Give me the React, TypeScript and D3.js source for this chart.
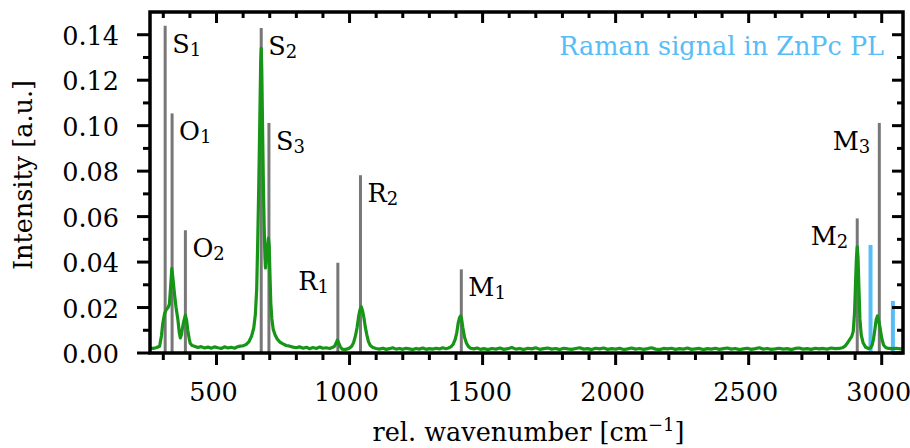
import React from 'react';
import * as d3 from 'd3';

const W = 910;
const H = 448;
const M = { left: 150, right: 7, top: 12, bottom: 95 };
const FONT = "'DejaVu Serif', serif";

const xDomain: [number, number] = [250, 3080];
const yDomain: [number, number] = [0, 0.15];
const xMajorTicks = [500, 1000, 1500, 2000, 2500, 3000];
const xMajorLabels = ['500', '1000', '1500', '2000', '2500', '3000'];
const xMinorTicks = [300, 400, 600, 700, 800, 900, 1100, 1200, 1300, 1400, 1600, 1700, 1800, 1900, 2100, 2200, 2300, 2400, 2600, 2700, 2800, 2900, 3000];
const yMajorTicks = [0, 0.02, 0.04, 0.06, 0.08, 0.1, 0.12, 0.14];
const yMajorLabels = ['0.00', '0.02', '0.04', '0.06', '0.08', '0.10', '0.12', '0.14'];
const yMinorTicks = [0.01, 0.03, 0.05, 0.07, 0.09, 0.11, 0.13];

// assigned Raman lines (grey sticks)
const peakNames = ['S', 'O', 'O', 'S', 'S', 'R', 'R', 'M', 'M', 'M'];
const peakSubs = ['1', '1', '2', '2', '3', '1', '2', '1', '2', '3'];
const peakPositions = [307, 333, 383, 668, 697, 956, 1041, 1420, 2908, 2991];
const peakHeights = [0.144, 0.1054, 0.054, 0.143, 0.1012, 0.0397, 0.0782, 0.0368, 0.0592, 0.1012];
const peakLabelSide = ['right', 'right', 'right', 'right', 'right', 'left', 'right', 'right', 'left', 'left'];

// Raman signal in ZnPc PL (blue sticks)
const ramanPositions = [2958, 3042];
const ramanHeights = [0.0475, 0.0229];

// measured spectrum [rel. wavenumber, intensity]
const spectrum: [number, number][] = [
  [250, 0.0022], [262, 0.0020], [275, 0.0024], [286, 0.0030], [293, 0.0075], [298, 0.0130],
  [305, 0.0175], [311, 0.0190], [318, 0.0200], [323, 0.0215], [328, 0.0300], [332, 0.0372],
  [336, 0.0330], [342, 0.0260], [348, 0.0200], [355, 0.0145], [360, 0.0090], [364, 0.0066],
  [368, 0.0080], [372, 0.0110], [377, 0.0140], [383, 0.0167], [388, 0.0140], [392, 0.0100],
  [397, 0.0065], [401, 0.0043], [408, 0.0033], [417, 0.0030], [430, 0.0024], [442, 0.0028],
  [455, 0.0022], [468, 0.0026], [480, 0.0021], [492, 0.0027], [505, 0.0023], [518, 0.0020],
  [530, 0.0027], [542, 0.0022], [555, 0.0025], [568, 0.0021], [580, 0.0028], [590, 0.0030],
  [600, 0.0032], [612, 0.0038], [622, 0.0050], [632, 0.0075], [640, 0.0110], [646, 0.0170],
  [651, 0.0280], [655, 0.0500], [659, 0.0750], [663, 0.1050], [666, 0.1280], [668, 0.1340],
  [670, 0.1250], [673, 0.1000], [676, 0.0750], [679, 0.0560], [682, 0.0420], [684, 0.0374],
  [687, 0.0400], [691, 0.0460], [695, 0.0505], [698, 0.0470], [701, 0.0340], [704, 0.0220],
  [708, 0.0150], [713, 0.0105], [720, 0.0080], [728, 0.0062], [738, 0.0048], [750, 0.0040],
  [762, 0.0033], [775, 0.0030], [788, 0.0026], [800, 0.0023], [812, 0.0027], [825, 0.0021],
  [838, 0.0025], [850, 0.0019], [862, 0.0024], [875, 0.0020], [888, 0.0026], [900, 0.0021],
  [912, 0.0023], [925, 0.0020], [935, 0.0024], [944, 0.0030], [950, 0.0045], [954, 0.0057],
  [959, 0.0045], [965, 0.0028], [972, 0.0017], [982, 0.0015], [992, 0.0018], [1000, 0.0022],
  [1008, 0.0030], [1015, 0.0045], [1022, 0.0075], [1028, 0.0110], [1034, 0.0160], [1039, 0.0190],
  [1044, 0.0204], [1049, 0.0185], [1054, 0.0155], [1059, 0.0115], [1065, 0.0080], [1071, 0.0050],
  [1078, 0.0033], [1088, 0.0024], [1100, 0.0020], [1112, 0.0017], [1125, 0.0021], [1138, 0.0016],
  [1150, 0.0019], [1162, 0.0023], [1175, 0.0017], [1188, 0.0020], [1200, 0.0016], [1212, 0.0021],
  [1225, 0.0018], [1238, 0.0015], [1250, 0.0020], [1262, 0.0017], [1275, 0.0022], [1288, 0.0016],
  [1300, 0.0019], [1312, 0.0017], [1325, 0.0021], [1338, 0.0018], [1350, 0.0023], [1362, 0.0019],
  [1372, 0.0022], [1382, 0.0028], [1390, 0.0040], [1397, 0.0060], [1403, 0.0090], [1408, 0.0130],
  [1413, 0.0155], [1417, 0.0163], [1421, 0.0150], [1426, 0.0110], [1432, 0.0070], [1439, 0.0044],
  [1447, 0.0028], [1455, 0.0021], [1467, 0.0018], [1480, 0.0022], [1492, 0.0016], [1505, 0.0019],
  [1520, 0.0015], [1535, 0.0020], [1550, 0.0017], [1565, 0.0022], [1580, 0.0016], [1595, 0.0019],
  [1610, 0.0024], [1625, 0.0017], [1640, 0.0020], [1655, 0.0015], [1670, 0.0021], [1685, 0.0018],
  [1700, 0.0023], [1715, 0.0016], [1730, 0.0019], [1745, 0.0022], [1760, 0.0017], [1775, 0.0020],
  [1790, 0.0015], [1805, 0.0021], [1820, 0.0018], [1835, 0.0016], [1850, 0.0020], [1865, 0.0023],
  [1880, 0.0017], [1895, 0.0019], [1910, 0.0015], [1925, 0.0021], [1940, 0.0018], [1955, 0.0022],
  [1970, 0.0016], [1985, 0.0019], [2000, 0.0017], [2015, 0.0021], [2030, 0.0015], [2045, 0.0018],
  [2060, 0.0022], [2075, 0.0017], [2090, 0.0020], [2105, 0.0016], [2120, 0.0019], [2135, 0.0023],
  [2150, 0.0017], [2165, 0.0015], [2180, 0.0020], [2195, 0.0018], [2210, 0.0021], [2225, 0.0016],
  [2240, 0.0019], [2255, 0.0017], [2270, 0.0022], [2285, 0.0016], [2300, 0.0018], [2315, 0.0020],
  [2330, 0.0015], [2345, 0.0019], [2360, 0.0017], [2375, 0.0021], [2390, 0.0016], [2405, 0.0019],
  [2420, 0.0022], [2435, 0.0017], [2450, 0.0020], [2465, 0.0015], [2480, 0.0018], [2495, 0.0021],
  [2510, 0.0016], [2525, 0.0019], [2540, 0.0023], [2555, 0.0017], [2570, 0.0020], [2585, 0.0016],
  [2600, 0.0018], [2615, 0.0021], [2630, 0.0017], [2645, 0.0019], [2660, 0.0015], [2675, 0.0020],
  [2690, 0.0022], [2705, 0.0017], [2720, 0.0019], [2735, 0.0016], [2750, 0.0021], [2765, 0.0018],
  [2780, 0.0020], [2795, 0.0017], [2810, 0.0022], [2825, 0.0019], [2840, 0.0020], [2852, 0.0023],
  [2862, 0.0030], [2872, 0.0045], [2880, 0.0060], [2887, 0.0072], [2893, 0.0095], [2898, 0.0180],
  [2902, 0.0320], [2905, 0.0420], [2908, 0.0467], [2911, 0.0420], [2914, 0.0300], [2918, 0.0150],
  [2923, 0.0080], [2930, 0.0045], [2940, 0.0025], [2950, 0.0020], [2958, 0.0022], [2964, 0.0035],
  [2969, 0.0060], [2974, 0.0100], [2979, 0.0145], [2984, 0.0163], [2989, 0.0140], [2994, 0.0110],
  [3000, 0.0065], [3007, 0.0035], [3015, 0.0024], [3025, 0.0020], [3040, 0.0019], [3055, 0.0021],
  [3070, 0.0018], [3080, 0.0020],
];

const GREY = '#777777';
const BLUE = '#56bdf7';
const GREEN = '#169516';

export default function App() {
  const x0 = M.left;
  const x1 = W - M.right;
  const y0 = H - M.bottom;
  const y1 = M.top;
  const x = d3.scaleLinear().domain(xDomain).range([x0, x1]);
  const y = d3.scaleLinear().domain(yDomain).range([y0, y1]);
  const line = d3
    .line<[number, number]>()
    .x((d) => x(d[0]))
    .y((d) => y(d[1]));

  const fs = 25.5;
  const subFs = 18;
  const tickW = 3;

  return (
    <svg
      width={W}
      height={H}
      style={{ position: 'absolute', left: 0, top: 0, background: '#fff' }}
      fontFamily={FONT}
    >
      <defs>
        <clipPath id="plotClip">
          <rect x={x0} y={y1} width={x1 - x0} height={y0 - y1} />
        </clipPath>
      </defs>
      <rect x={0} y={0} width={W} height={H} fill="#fff" />

      {/* grey sticks */}
      {peakPositions.map((p, i) => (
        <line key={'pk' + i} x1={x(p)} x2={x(p)} y1={y(0)} y2={y(peakHeights[i])} stroke={GREY} strokeWidth={3} />
      ))}
      {/* blue sticks */}
      {ramanPositions.map((p, i) => (
        <line key={'rm' + i} x1={x(p)} x2={x(p)} y1={y(0)} y2={y(ramanHeights[i])} stroke={BLUE} strokeWidth={4} />
      ))}

      {/* spectrum */}
      <path d={line(spectrum) || ''} fill="none" stroke={GREEN} strokeWidth={3.2} strokeLinejoin="round" clipPath="url(#plotClip)" />

      {/* peak labels */}
      {peakPositions.map((p, i) => {
        const right = peakLabelSide[i] === 'right';
        return (
          <text
            key={'pl' + i}
            x={right ? x(p) + 7 : x(p) - 9}
            y={y(peakHeights[i]) + 27}
            fontSize={fs}
            textAnchor={right ? 'start' : 'end'}
            fill="#000"
          >
            {peakNames[i]}
            <tspan fontSize={subFs} dy={3}>{peakSubs[i]}</tspan>
          </text>
        );
      })}

      <text x={884} y={55} fontSize={fs} fill={BLUE} textAnchor="end">
        Raman signal in ZnPc PL
      </text>

      {/* ticks: bottom (outward), top (inward) */}
      {xMajorTicks.map((t) => (
        <g key={'xM' + t}>
          <line x1={x(t)} x2={x(t)} y1={y0} y2={y0 + 12} stroke="#000" strokeWidth={tickW} />
          <line x1={x(t)} x2={x(t)} y1={y1} y2={y1 + 11} stroke="#000" strokeWidth={tickW} />
        </g>
      ))}
      {xMinorTicks.filter((t) => !xMajorTicks.includes(t)).map((t) => (
        <g key={'xm' + t}>
          <line x1={x(t)} x2={x(t)} y1={y0} y2={y0 + 7} stroke="#000" strokeWidth={tickW} />
          <line x1={x(t)} x2={x(t)} y1={y1} y2={y1 + 6} stroke="#000" strokeWidth={tickW} />
        </g>
      ))}
      {yMajorTicks.map((t) => (
        <g key={'yM' + t}>
          <line x1={x0 - 13} x2={x0} y1={y(t)} y2={y(t)} stroke="#000" strokeWidth={tickW} />
          <line x1={x1 - 11} x2={x1} y1={y(t)} y2={y(t)} stroke="#000" strokeWidth={tickW} />
        </g>
      ))}
      {yMinorTicks.map((t) => (
        <g key={'ym' + t}>
          <line x1={x0 - 7} x2={x0} y1={y(t)} y2={y(t)} stroke="#000" strokeWidth={tickW} />
          <line x1={x1 - 6} x2={x1} y1={y(t)} y2={y(t)} stroke="#000" strokeWidth={tickW} />
        </g>
      ))}

      {/* frame */}
      <rect x={x0} y={y1} width={x1 - x0} height={y0 - y1} fill="none" stroke="#000" strokeWidth={3.5} />

      {/* tick labels */}
      {xMajorTicks.map((t, i) => (
        <text key={'xl' + t} x={x(t) - 3} y={y0 + 48} fontSize={fs} textAnchor="middle" fill="#000">
          {xMajorLabels[i]}
        </text>
      ))}
      {yMajorTicks.map((t, i) => (
        <text key={'yl' + t} x={119} y={y(t)} dy="0.4em" fontSize={fs} textAnchor="end" fill="#000">
          {yMajorLabels[i]}
        </text>
      ))}

      {/* axis titles */}
      <text x={(x0 + x1) / 2 + 2} y={441} fontSize={fs} textAnchor="middle" fill="#000">
        rel. wavenumber [cm
        <tspan fontSize={subFs} dy={-10}>−1</tspan>
        <tspan dy={10}>]</tspan>
      </text>
      <text transform={`translate(32, ${175}) rotate(-90)`} fontSize={fs} textAnchor="middle" fill="#000">
        Intensity [a.u.]
      </text>
    </svg>
  );
}
